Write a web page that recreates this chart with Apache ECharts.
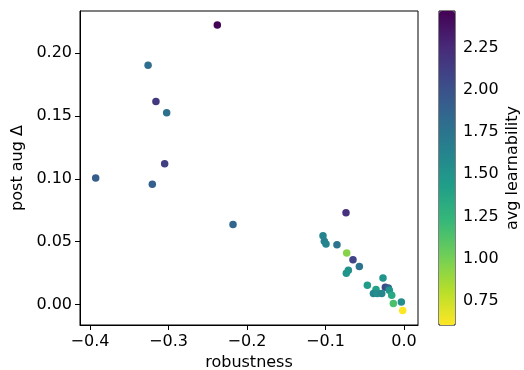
<!DOCTYPE html>
<html>
<head>
<meta charset="utf-8">
<script src="https://cdn.jsdelivr.net/npm/echarts@6/dist/echarts.min.js"></script>
<style>
html,body{margin:0;padding:0;background:#fff;}
#c{width:524px;height:370px;}
</style>
</head>
<body>
<div id="c"></div>
<script>
var robustness = [-0.2378, -0.326, -0.316, -0.3023, -0.3049, -0.3927, -0.3206, -0.2178,
  -0.1032, -0.1015, -0.0994, -0.0854, -0.073, -0.0739, -0.065, -0.0569, -0.0709, -0.0735,
  -0.0268, -0.0467, -0.0357, -0.0238, -0.020, -0.039, -0.034, -0.0284, -0.0187, -0.0157,
  -0.0034, -0.0136, -0.0017];
var postAug = [0.2225, 0.1905, 0.1617, 0.1526, 0.1121, 0.1008, 0.0958, 0.0637,
  0.0548, 0.0503, 0.0481, 0.0476, 0.0410, 0.0730, 0.0357, 0.0302, 0.0272, 0.0249,
  0.0212, 0.0153, 0.0119, 0.0137, 0.0132, 0.0087, 0.0087, 0.0087, 0.0114, 0.0074,
  0.0021, 0.0008, -0.0048];
var learnability = [2.45, 1.80, 2.15, 1.78, 2.12, 1.92, 1.90, 1.85,
  1.62, 1.65, 1.62, 1.75, 0.95, 2.20, 2.08, 1.75, 1.52, 1.50,
  1.50, 1.45, 1.40, 2.05, 1.90, 1.60, 1.55, 1.60, 1.50, 1.35,
  1.55, 1.15, 0.607];
var xTicks = [-0.4, -0.3, -0.2, -0.1, 0.0];
var yTicks = [0.00, 0.05, 0.10, 0.15, 0.20];
var cTicks = [0.75, 1.00, 1.25, 1.50, 1.75, 2.00, 2.25];
var cMin = 0.607, cMax = 2.466;
var viridisLowToHigh = ['#fde725','#b5de2b','#6ece58','#35b779','#1f9e89','#26828e','#31688e','#3e4989','#482878','#440154'];

var data = robustness.map(function(x, i){ return [x, postAug[i], learnability[i]]; });
var font = 'DejaVu Sans';
var fs = 16;
var chart = echarts.init(document.getElementById('c'), null, {renderer:'canvas'});
chart.setOption({
  animation: false,
  textStyle: {fontFamily: font},
  grid: [
    {left: 80, width: 338, top: 11, height: 314, containLabel: false, outerBoundsMode: 'none',
     show: true, borderColor: '#000', borderWidth: 1, backgroundColor: 'transparent'},
    {left: 439, width: 16, top: 11, height: 314, containLabel: false, outerBoundsMode: 'none',
     show: true, borderColor: '#000', borderWidth: 1, backgroundColor: 'transparent'}
  ],
  xAxis: [
    {gridIndex: 0, type: 'value', min: -0.4127, max: 0.0178,
     name: 'robustness', nameLocation: 'middle', nameGap: 27,
     nameTextStyle: {fontSize: fs, color: '#000', fontFamily: font},
     splitLine: {show: false},
     axisLine: {show: true, onZero: false, lineStyle: {color: '#000'}},
     axisTick: {show: true, inside: false, length: 5, lineStyle: {color: '#000'}, customValues: xTicks},
     axisLabel: {fontSize: fs, color: '#000', margin: 9, customValues: xTicks,
       formatter: function(v){ return (v < 0 ? '\u2212' : '') + Math.abs(v).toFixed(1); }}
    },
    {gridIndex: 1, type: 'value', min: 0, max: 1, show: false}
  ],
  yAxis: [
    {gridIndex: 0, type: 'value', min: -0.0163, max: 0.2337,
     name: 'post aug \u0394', nameLocation: 'middle', nameGap: 47,
     nameTextStyle: {fontSize: fs, color: '#000', fontFamily: font},
     splitLine: {show: false},
     axisLine: {show: true, onZero: false, lineStyle: {color: '#000'}},
     axisTick: {show: true, inside: false, length: 5, lineStyle: {color: '#000'}, customValues: yTicks},
     axisLabel: {fontSize: fs, color: '#000', margin: 8, customValues: yTicks,
       formatter: function(v){ return v.toFixed(2); }}
    },
    {gridIndex: 1, type: 'value', min: cMin, max: cMax, position: 'right',
     name: 'avg learnability', nameLocation: 'middle', nameGap: 50, nameRotate: 90,
     nameTextStyle: {fontSize: fs, color: '#000', fontFamily: font},
     splitLine: {show: false},
     axisLine: {show: false},
     axisTick: {show: true, inside: false, length: 5, lineStyle: {color: '#000'}, customValues: cTicks},
     axisLabel: {fontSize: fs, color: '#000', margin: 8, customValues: cTicks,
       formatter: function(v){ return v.toFixed(2); }}
    }
  ],
  visualMap: {
    type: 'continuous', min: cMin, max: cMax, dimension: 2, seriesIndex: 0,
    calculable: false, show: true, orient: 'vertical',
    left: 439, top: 11, itemWidth: 16, itemHeight: 314, padding: 0,
    text: null, showLabel: false, hoverLink: false,
    inRange: {color: viridisLowToHigh}
  },
  series: [
    {type: 'scatter', xAxisIndex: 0, yAxisIndex: 0, data: data, symbolSize: 7.5,
     itemStyle: {opacity: 1}, z: 3}
  ]
});
</script>
</body>
</html>
